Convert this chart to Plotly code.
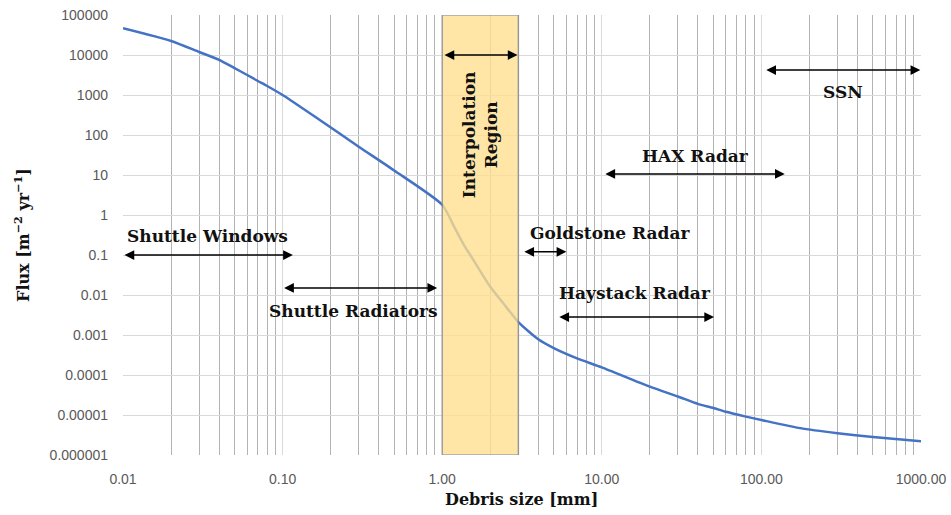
import numpy as np
import plotly.graph_objects as go

# ---- data ----
size_mm = [0.01, 0.02, 0.03, 0.04, 0.05, 0.06, 0.07, 0.08, 0.1, 0.171, 0.3, 0.5, 1.0, 1.2, 1.39, 1.5,
           2.0, 2.5, 3.0, 4.0, 5.0, 7.0, 10.0, 20.0, 30.0, 40.0, 50.0, 60.0, 80.0, 100.0, 175.0,
           300.0, 500.0, 1000.0]
flux = [46500, 22400, 11900, 7600, 4700, 3160, 2240, 1680, 1000, 237, 51, 13, 1.8, 0.47, 0.16, 0.1,
        0.016, 0.0052, 0.0021, 0.00078, 0.00047, 0.00026, 0.000155, 5.1e-5, 2.9e-5, 1.9e-5, 1.5e-5,
        1.2e-5, 9.1e-6, 7.5e-6, 4.7e-6, 3.5e-6, 2.8e-6, 2.2e-6]

x_tick_vals = [0.01, 0.1, 1, 10, 100, 1000]
x_tick_text = ["0.01", "0.10", "1.00", "10.00", "100.00", "1000.00"]
y_tick_vals = [1e-6, 1e-5, 1e-4, 1e-3, 1e-2, 1e-1, 1, 10, 100, 1000, 10000, 100000]
y_tick_text = ["0.000001", "0.00001", "0.0001", "0.001", "0.01", "0.1", "1", "10", "100",
               "1000", "10000", "100000"]

interp_region = [1.0, 3.0]  # mm

# detection ranges
range_labels = ["Shuttle Windows", "Shuttle Radiators", "Goldstone Radar", "Haystack Radar", "HAX Radar", "SSN"]
range_start = [0.01, 0.1, 3.2, 5.3, 10.3, 105]
range_end = [0.116, 0.93, 6.0, 50.5, 140, 990]
range_arrow_y = [0.1, 0.015, 0.12, 0.0028, 10.6, 4200]
label_x = [0.0336, 0.28, 11.2, 16.1, 38.9, 324]
label_y = [0.3, 0.004, 0.355, 0.0112, 29.9, 1190]

interp_arrow_y = 10000
interp_label_x = 1.73
interp_label_y = 100

# ---- figure ----
fig = go.Figure()
fig.add_trace(go.Scatter(x=size_mm, y=flux, mode="lines",
                         line=dict(color="#4472C4", width=2.5, shape="spline", smoothing=0.6),
                         showlegend=False, hoverinfo="skip"))

fig.add_shape(type="rect", xref="x", yref="y", x0=interp_region[0], x1=interp_region[1],
              y0=y_tick_vals[0], y1=y_tick_vals[-1], fillcolor="#FFE08F", opacity=0.78,
              line=dict(color="#8c8c8c", width=1.5), layer="above")

serif = "DejaVu Serif"
txt_color = "#111111"
ann = []
for lab, xs, xe, ya, tx, ty in zip(range_labels, range_start, range_end, range_arrow_y, label_x, label_y):
    ann.append(dict(x=np.log10(xe), y=np.log10(ya), ax=np.log10(xs), ay=np.log10(ya),
                    xref="x", yref="y", axref="x", ayref="y", text="", showarrow=True,
                    arrowhead=2, startarrowhead=2, arrowside="end+start", arrowsize=1.3,
                    startarrowsize=1.3, arrowwidth=1.5, arrowcolor="black"))
    ann.append(dict(x=np.log10(tx), y=np.log10(ty), xref="x", yref="y", text="<b>%s</b>" % lab,
                    showarrow=False, font=dict(family=serif, size=17, color=txt_color)))

ann.append(dict(x=np.log10(interp_region[1]) - 0.005, y=np.log10(interp_arrow_y),
                ax=np.log10(interp_region[0]) + 0.005, ay=np.log10(interp_arrow_y),
                xref="x", yref="y", axref="x", ayref="y", text="", showarrow=True,
                arrowhead=2, startarrowhead=2, arrowside="end+start", arrowsize=1.3,
                startarrowsize=1.3, arrowwidth=1.5, arrowcolor="black"))
ann.append(dict(x=np.log10(interp_label_x), y=np.log10(interp_label_y), xref="x", yref="y",
                text="<b>Interpolation<br>Region</b>", textangle=-90, showarrow=False,
                font=dict(family=serif, size=17, color=txt_color)))

# axis titles
ann.append(dict(x=0.499, y=-0.102, xref="paper", yref="paper", xanchor="center", yanchor="middle",
                text="<b>Debris size [mm]</b>", showarrow=False,
                font=dict(family=serif, size=16, color=txt_color)))
ann.append(dict(x=-0.1266, y=0.5, xref="paper", yref="paper", xanchor="center", yanchor="middle",
                text="<b>Flux [m<sup>−2</sup> yr<sup>−1</sup>]</b>", textangle=-90, showarrow=False,
                font=dict(family=serif, size=16, color=txt_color)))

minor_x = [m * 10.0 ** d for d in range(-2, 3) for m in range(2, 10)]

fig.update_layout(
    width=951, height=515,
    margin=dict(l=123, r=30, t=15, b=60, autoexpand=False),
    paper_bgcolor="white", plot_bgcolor="white",
    annotations=ann,
    xaxis=dict(type="log", range=[-2, 3], tickmode="array", tickvals=x_tick_vals, ticktext=x_tick_text,
               showgrid=True, gridcolor="#d9d9d9", gridwidth=1.2, zeroline=False, showline=False,
               ticks="", ticklabelstandoff=14, automargin=False,
               minor=dict(tickmode="array", tickvals=minor_x, showgrid=True, gridcolor="#b3b3b3", gridwidth=1),
               tickfont=dict(family="Liberation Sans", size=14, color="#595959")),
    yaxis=dict(type="log", range=[-6, 5], tickmode="array", tickvals=y_tick_vals, ticktext=y_tick_text,
               showgrid=True, gridcolor="#d9d9d9", gridwidth=1.2, zeroline=False, showline=False,
               ticks="", ticklabelstandoff=14, automargin=False,
               tickfont=dict(family="Liberation Sans", size=14, color="#595959")),
)

fig.write_html("out.html")
